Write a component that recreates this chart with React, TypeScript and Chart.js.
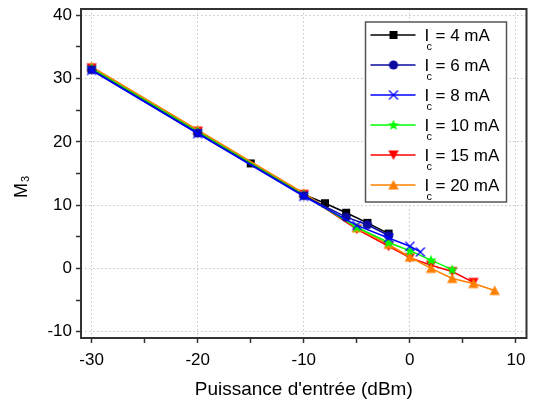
import React, { useEffect, useRef } from 'react';
import { Chart, registerables } from 'chart.js';

Chart.register(...registerables);

// ---- Data ----
const seriesLabels = ['4 mA', '6 mA', '8 mA', '10 mA', '15 mA', '20 mA'];

const x4mA = [-30, -20, -15, -10, -8, -6, -4, -2];
const y4mA = [31.5, 21.5, 16.6, 11.7, 10.3, 8.8, 7.2, 5.5];

const x6mA = [-30, -20, -10, -6, -4, -2];
const y6mA = [31.4, 21.4, 11.5, 8.1, 6.9, 5.2];

const x8mA = [-30, -20, -10, -5, -2, 0, 1];
const y8mA = [31.3, 21.3, 11.4, 6.8, 4.8, 3.5, 2.6];

const x10mA = [-30, -20, -10, -5, -2, 0, 2, 4];
const y10mA = [31.6, 21.6, 11.6, 6.5, 4.1, 2.8, 1.3, -0.2];

const x15mA = [-30, -20, -10, -5, -2, 0, 2, 4, 6];
const y15mA = [31.7, 21.7, 11.7, 6.2, 3.5, 1.7, 0.5, -0.5, -2.2];

const x20mA = [-30, -20, -10, -5, -2, 0, 2, 4, 6, 8];
const y20mA = [31.9, 21.9, 11.9, 6.4, 3.8, 1.8, 0.0, -1.6, -2.4, -3.5];

const xTickValues = [-30, -20, -10, 0, 10];
const yTickValues = [-10, 0, 10, 20, 30, 40];

const seriesColors = ['#000000', '#0a0aa0', '#0000ff', '#00ff00', '#ff0000', '#ff8000'];
const seriesMarkers = ['square', 'circle', 'cross', 'star', 'triDown', 'triUp'];
// drawing order (higher = drawn first, underneath)
const seriesOrder = [6, 2, 1, 3, 5, 4];

const xTitle = "Puissance d'entrée (dBm)";
const yTitleMain = 'M';
const yTitleSub = '3';
const legendMain = 'I';
const legendSub = 'c';

function makeMarker(kind: string, color: string): HTMLCanvasElement {
  const c = document.createElement('canvas');
  c.width = 12;
  c.height = 12;
  const g = c.getContext('2d')!;
  g.fillStyle = color;
  g.strokeStyle = color;
  if (kind === 'square') {
    g.fillRect(2, 2, 8, 8);
  } else if (kind === 'circle') {
    g.beginPath();
    g.arc(6, 6, 4.6, 0, Math.PI * 2);
    g.fill();
  } else if (kind === 'cross') {
    g.lineWidth = 1.2;
    g.beginPath();
    g.moveTo(1.5, 1.5);
    g.lineTo(10.5, 10.5);
    g.moveTo(10.5, 1.5);
    g.lineTo(1.5, 10.5);
    g.stroke();
  } else if (kind === 'star') {
    g.beginPath();
    for (let i = 0; i < 10; i++) {
      const r = i % 2 === 0 ? 5.8 : 2.4;
      const a = -Math.PI / 2 + (i * Math.PI) / 5;
      const px = 6 + r * Math.cos(a);
      const py = 6.3 + r * Math.sin(a);
      if (i === 0) g.moveTo(px, py);
      else g.lineTo(px, py);
    }
    g.closePath();
    g.fill();
  } else if (kind === 'triDown') {
    g.beginPath();
    g.moveTo(0.8, 1.5);
    g.lineTo(11.2, 1.5);
    g.lineTo(6, 11);
    g.closePath();
    g.fill();
  } else if (kind === 'triUp') {
    g.beginPath();
    g.moveTo(0.8, 10.5);
    g.lineTo(11.2, 10.5);
    g.lineTo(6, 1);
    g.closePath();
    g.fill();
  }
  return c;
}

export default function App() {
  const canvasRef = useRef<HTMLCanvasElement | null>(null);

  useEffect(() => {
    document.body.style.margin = '0';
    const canvas = canvasRef.current;
    if (!canvas) return;

    const markers = seriesMarkers.map((k, i) => makeMarker(k, seriesColors[i]));
    const xs = [x4mA, x6mA, x8mA, x10mA, x15mA, x20mA];
    const ys = [y4mA, y6mA, y8mA, y10mA, y15mA, y20mA];

    const datasets = seriesLabels.map((label, i) => ({
      label,
      data: xs[i].map((x, j) => ({ x, y: ys[i][j] })),
      borderColor: seriesColors[i],
      backgroundColor: seriesColors[i],
      borderWidth: 1.5,
      pointStyle: markers[i] as any,
      pointRadius: 5,
      showLine: true,
      tension: 0,
      order: seriesOrder[i],
    }));

    const fontFamily = '"Liberation Sans", Arial, sans-serif';

    const framePlugin = {
      id: 'frameAndLegend',
      afterDraw(chart: any) {
        const ctx = chart.ctx as CanvasRenderingContext2D;
        const a = chart.chartArea;
        ctx.save();
        // plot frame
        ctx.strokeStyle = '#333';
        ctx.lineWidth = 2;
        ctx.strokeRect(a.left, a.top, a.right - a.left, a.bottom - a.top);

        // y title: M with subscript 3, rotated
        ctx.save();
        ctx.translate(27, 198);
        ctx.rotate(-Math.PI / 2);
        ctx.fillStyle = '#000';
        ctx.textBaseline = 'alphabetic';
        ctx.textAlign = 'left';
        ctx.font = `18px ${fontFamily}`;
        ctx.fillText(yTitleMain, 0, 0);
        const mw = ctx.measureText(yTitleMain).width;
        ctx.font = `11px ${fontFamily}`;
        ctx.fillText(yTitleSub, mw + 1, 2);
        ctx.restore();

        // legend
        const bw = 141;
        const bh = 180;
        const bx = a.right - 20 - bw;
        const by = a.top + 13;
        ctx.fillStyle = '#fff';
        ctx.fillRect(bx, by, bw, bh);
        ctx.strokeStyle = '#555';
        ctx.lineWidth = 1.5;
        ctx.strokeRect(bx, by, bw, bh);
        seriesLabels.forEach((label, i) => {
          const cy = by + 13 + i * 30;
          ctx.strokeStyle = seriesColors[i];
          ctx.lineWidth = 1.5;
          ctx.beginPath();
          ctx.moveTo(bx + 5, cy);
          ctx.lineTo(bx + 50, cy);
          ctx.stroke();
          const m = markers[i];
          ctx.drawImage(m, bx + 28 - m.width / 2, cy - m.height / 2);
          ctx.fillStyle = '#000';
          ctx.textAlign = 'left';
          ctx.textBaseline = 'alphabetic';
          ctx.font = `17px ${fontFamily}`;
          ctx.fillText(legendMain, bx + 59, cy + 6);
          ctx.font = `11px ${fontFamily}`;
          ctx.fillText(legendSub, bx + 61, cy + 15);
          ctx.font = `17px ${fontFamily}`;
          ctx.fillText('= ' + label, bx + 70, cy + 6);
        });
        ctx.restore();
      },
    };

    const gridColor = (ctx: any) =>
      ctx.tick && Math.abs(ctx.tick.value % 10) < 1e-9 ? '#c4c4c4' : 'rgba(0,0,0,0)';

    const chart = new Chart(canvas, {
      type: 'scatter',
      data: { datasets: datasets as any },
      plugins: [framePlugin],
      options: {
        animation: false,
        responsive: false,
        maintainAspectRatio: false,
        layout: { padding: { top: 9, right: 5, left: 0, bottom: 0 } },
        plugins: {
          legend: { display: false },
          tooltip: { enabled: false },
        },
        scales: {
          x: {
            type: 'linear',
            min: -31,
            max: 11,
            afterBuildTicks: (scale: any) => {
              const t = [];
              for (let v = -30; v <= 10; v += 5) t.push({ value: v });
              scale.ticks = t;
            },
            afterFit: (scale: any) => {
              scale.height = 68;
              scale.paddingLeft = 0;
              scale.paddingRight = 0;
            },
            ticks: {
              autoSkip: false,
              maxRotation: 0,
              padding: 7,
              color: '#000',
              font: { family: fontFamily, size: 17 },
              callback: (v: any) => (xTickValues.includes(Number(v)) ? String(v) : ''),
            },
            grid: {
              color: gridColor,
              lineWidth: 1,
              drawTicks: true,
              tickLength: 5,
              tickColor: '#333',
              tickWidth: 1.5,
              tickBorderDash: [],
            },
            border: { display: false, dash: [1.5, 2.5] },
            title: {
              display: true,
              text: xTitle,
              color: '#000',
              font: { family: fontFamily, size: 19 },
              padding: { top: 0, bottom: 5 },
            },
          },
          y: {
            type: 'linear',
            min: -11,
            max: 41,
            afterBuildTicks: (scale: any) => {
              const t = [];
              for (let v = -10; v <= 40; v += 5) t.push({ value: v });
              scale.ticks = t;
            },
            afterFit: (scale: any) => {
              scale.width = 81;
              scale.paddingTop = 0;
              scale.paddingBottom = 0;
            },
            ticks: {
              autoSkip: false,
              padding: 4,
              color: '#000',
              font: { family: fontFamily, size: 17, lineHeight: 1 },
              callback: (v: any) => (yTickValues.includes(Number(v)) ? String(v) : ''),
            },
            grid: {
              color: gridColor,
              lineWidth: 1,
              drawTicks: true,
              tickLength: 5,
              tickColor: '#333',
              tickWidth: 1.5,
              tickBorderDash: [],
            },
            border: { display: false, dash: [1.5, 2.5] },
            title: { display: false },
          },
        },
      },
    });

    return () => chart.destroy();
  }, []);

  return (
    <div style={{ position: 'absolute', left: 0, top: 0, width: 533, height: 406 }}>
      <canvas ref={canvasRef} width={533} height={406} style={{ width: 533, height: 406 }} />
    </div>
  );
}
